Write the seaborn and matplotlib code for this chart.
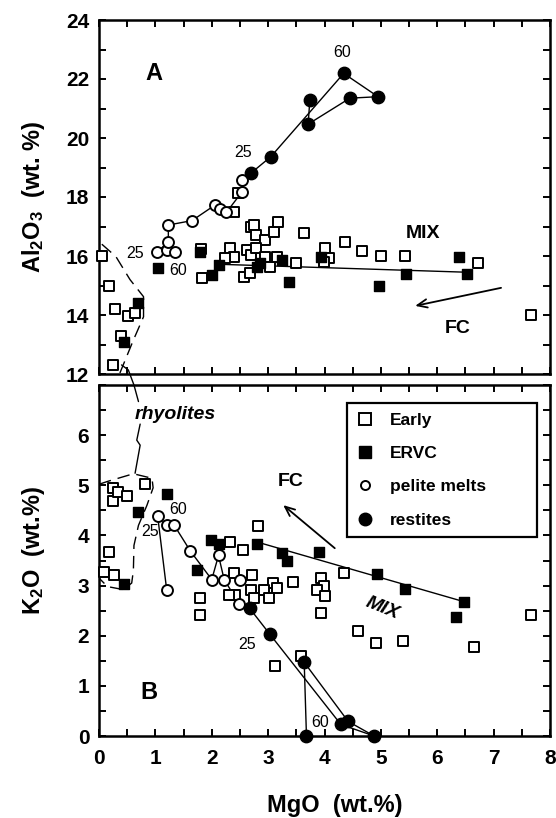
import matplotlib
matplotlib.use("Agg")
import matplotlib.pyplot as plt
from matplotlib.lines import Line2D
from matplotlib.ticker import MultipleLocator
import seaborn as sns

# ---------------- Panel A: Al2O3 vs MgO ----------------
early_a_mgo = [0.05, 0.18, 0.28, 0.52, 0.64, 0.39, 0.25,
               1.81, 1.83, 2.33, 2.39, 2.24, 2.57, 2.67, 2.62,
               2.69, 2.75, 2.79, 2.95, 3.11, 3.17,
               2.69, 2.79, 2.95, 3.04, 3.16, 3.49, 3.64, 4.00, 4.08, 3.99,
               4.36, 4.66, 5.00, 5.43, 6.72, 7.67, 2.39, 2.46]
early_a_al = [16.0, 15.0, 14.2, 13.95, 14.07, 13.3, 12.3,
              16.25, 15.24, 16.26, 15.98, 15.92, 15.3, 15.41, 16.2,
              16.99, 17.05, 16.71, 16.54, 16.82, 17.16,
              16.03, 16.26, 15.98, 15.64, 15.98, 15.75, 16.77, 16.26, 15.92, 15.8,
              16.46, 16.17, 16.0, 16.0, 15.77, 14.0, 17.5, 18.12]

ervc_a_mgo = [0.69, 0.44, 1.04, 1.79, 2.00, 2.12, 2.80, 2.86, 3.25, 3.37,
              3.93, 4.97, 5.44, 6.39, 6.52]
ervc_a_al = [14.4, 13.1, 15.58, 16.15, 15.36, 15.7, 15.64, 15.75, 15.86, 15.13,
             15.98, 14.99, 15.38, 15.98, 15.38]

pelite_a_mgo = [1.03, 1.20, 1.35, 1.23, 1.23, 1.65, 2.06, 2.15, 2.26, 2.54, 2.54]
pelite_a_al = [16.15, 16.2, 16.15, 16.46, 17.05, 17.2, 17.73, 17.58, 17.48, 18.18, 18.58]

restite_a_mgo = [2.69, 3.05, 3.74, 3.71, 4.34, 4.45, 4.95]
restite_a_al = [18.8, 19.37, 21.29, 20.47, 22.19, 21.35, 21.4]

# melting paths (panel A)
melt_a_paths = [
    ([1.03, 1.23, 1.35], [16.15, 16.46, 16.15]),
    ([1.23, 1.23, 1.65, 2.06, 2.15, 2.26, 2.54, 2.54, 2.69, 3.05, 4.34, 4.95],
     [16.46, 17.05, 17.2, 17.73, 17.58, 17.48, 18.18, 18.58, 18.8, 19.37, 22.19, 21.4]),
    ([3.74, 3.71, 4.45, 4.95], [21.29, 20.47, 21.35, 21.4]),
]
mix_a_mgo = [2.12, 6.52]
mix_a_al = [15.72, 15.45]

rhy_a_mgo = [0.05, 0.3, 0.55, 0.79, 0.79, 0.61, 0.37]
rhy_a_al = [16.4, 15.98, 15.2, 14.62, 13.94, 13.15, 12.03]

# ---------------- Panel B: K2O vs MgO ----------------
early_b_mgo = [0.08, 0.27, 0.17, 0.25, 0.25, 0.34, 0.49, 0.82,
               1.80, 1.79, 2.32, 2.56, 2.82, 2.39, 2.72, 3.45, 3.09, 3.15,
               2.92, 2.69, 2.42, 2.30, 3.01, 2.75, 3.94, 3.99, 3.87, 4.00,
               3.94, 4.34, 4.60, 4.91, 5.40, 6.65, 7.66, 3.58, 3.13]
early_b_k = [3.28, 3.21, 3.66, 4.94, 4.68, 4.86, 4.79, 5.03,
             2.75, 2.42, 3.86, 3.70, 4.18, 3.26, 3.21, 3.08, 3.05, 2.95,
             2.92, 2.92, 2.82, 2.82, 2.75, 2.75, 3.15, 3.0, 2.92, 2.8,
             2.45, 3.26, 2.09, 1.85, 1.89, 1.77, 2.42, 1.6, 1.4]

ervc_b_mgo = [0.44, 0.70, 1.20, 1.73, 1.99, 2.12, 2.80, 3.25, 3.33, 3.90,
              4.93, 5.43, 6.47, 6.34]
ervc_b_k = [3.04, 4.46, 4.82, 3.32, 3.91, 3.82, 3.83, 3.65, 3.50, 3.67,
            3.23, 2.94, 2.68, 2.38]

pelite_b_mgo = [1.04, 1.20, 1.33, 1.62, 2.00, 2.12, 2.22, 2.50, 2.49, 1.20]
pelite_b_k = [4.39, 4.21, 4.21, 3.69, 3.12, 3.60, 3.12, 3.12, 2.63, 2.92]

restite_b_mgo = [2.67, 3.03, 3.64, 3.68, 4.29, 4.42, 4.88]
restite_b_k = [2.55, 2.03, 1.47, 0.0, 0.23, 0.29, 0.0]

# melting paths (panel B)
melt_b_paths = [
    ([1.04, 1.20], [4.39, 2.92]),
    ([1.04, 1.20, 1.33, 1.62, 2.00, 2.12, 2.22, 2.49, 2.67, 3.03, 4.29, 4.88],
     [4.39, 4.21, 4.21, 3.69, 3.12, 3.60, 3.12, 2.63, 2.55, 2.03, 0.23, 0.0]),
    ([3.68, 3.64, 4.42, 4.88], [0.0, 1.47, 0.29, 0.0]),
]
mix_b_mgo = [2.80, 6.47]
mix_b_k = [3.87, 2.68]

rhy_b_mgo = [0.0, 0.16, 0.61, 0.94, 0.96, 0.85, 0.70, 0.62, 0.61, 0.58, 0.43, 0.15, 0.0]
rhy_b_k = [5.02, 5.08, 5.23, 5.14, 4.95, 4.60, 4.20, 3.80, 3.30, 3.05, 2.92, 2.98, 3.15]
leader_mgo = [0.40, 0.52, 0.62, 0.70]
leader_k = [7.40, 7.30, 7.00, 6.67]
leader2_mgo = [0.73, 0.67, 0.73, 0.64]
leader2_k = [6.22, 5.90, 5.80, 5.24]

# ---------------- styling ----------------
sns.set_style("ticks")
plt.rcParams["font.family"] = ["Liberation Sans", "DejaVu Sans"]
plt.rcParams["mathtext.fontset"] = "custom"
plt.rcParams["mathtext.bf"] = "Liberation Sans:bold"
plt.rcParams["mathtext.rm"] = "Liberation Sans:bold"
plt.rcParams["mathtext.default"] = "bf"
for key in ("text.color", "axes.labelcolor", "xtick.color", "ytick.color",
            "axes.edgecolor"):
    plt.rcParams[key] = "black"

fig = plt.figure(figsize=(5.56, 8.18), dpi=100)
W, H = 556, 818
axA = fig.add_axes([99 / W, 1 - 374 / H, 451 / W, 354 / H])
axB = fig.add_axes([99 / W, 1 - 736 / H, 451 / W, 351 / H])

OPEN = dict(color="white", edgecolor="black", linewidth=1.4, clip_on=False)
FILL = dict(color="black", edgecolor="black", linewidth=1.0, clip_on=False)
SQ = 62
CI = 62
CI_BIG = 80


def draw_panel(ax, early, ervc, pelite, restite, paths, mix):
    for xs, ys in paths:
        sns.lineplot(x=xs, y=ys, sort=False, estimator=None, color="black",
                     lw=1.0, ax=ax, zorder=2)
    sns.lineplot(x=mix[0], y=mix[1], sort=False, estimator=None, color="black",
                 lw=1.0, ax=ax, zorder=2)
    sns.scatterplot(x=early[0], y=early[1], marker="s", s=SQ, ax=ax, zorder=3, **OPEN)
    sns.scatterplot(x=ervc[0], y=ervc[1], marker="s", s=SQ, ax=ax, zorder=4, **FILL)
    sns.scatterplot(x=pelite[0], y=pelite[1], marker="o", s=CI, ax=ax, zorder=5, **OPEN)
    sns.scatterplot(x=restite[0], y=restite[1], marker="o", s=CI_BIG, ax=ax, zorder=6, **FILL)


draw_panel(axA, (early_a_mgo, early_a_al), (ervc_a_mgo, ervc_a_al),
           (pelite_a_mgo, pelite_a_al), (restite_a_mgo, restite_a_al),
           melt_a_paths, (mix_a_mgo, mix_a_al))
draw_panel(axB, (early_b_mgo, early_b_k), (ervc_b_mgo, ervc_b_k),
           (pelite_b_mgo, pelite_b_k), (restite_b_mgo, restite_b_k),
           melt_b_paths, (mix_b_mgo, mix_b_k))

# rhyolite outlines
axA.plot(rhy_a_mgo, rhy_a_al, color="black", lw=1.0, ls=(0, (9, 5)), zorder=1)
axB.plot(rhy_b_mgo, rhy_b_k, color="black", lw=1.0, ls=(0, (9, 5)), zorder=1)
axB.plot(leader_mgo, leader_k, color="black", lw=1.0, clip_on=False, zorder=1)
axB.plot(leader2_mgo, leader2_k, color="black", lw=1.0, clip_on=False, zorder=1)

# axes formatting
for ax in (axA, axB):
    ax.set_xlim(0, 8)
    ax.xaxis.set_major_locator(MultipleLocator(1))
    ax.xaxis.set_minor_locator(MultipleLocator(0.5))
    ax.tick_params(which="both", direction="in", top=True, right=True,
                   width=1.4, length=5, color="black")
    ax.tick_params(axis="both", labelsize=15, labelcolor="black")
    for sp in ax.spines.values():
        sp.set_linewidth(1.8)
        sp.set_color("black")
        sp.set_visible(True)
    ax.set_xlabel("")
    ax.set_ylabel("")

axA.set_ylim(12, 24)
axA.set_yticks(range(12, 25, 2))
axA.yaxis.set_minor_locator(MultipleLocator(1))
axA.tick_params(axis="x", labelbottom=False)
axA.tick_params(axis="y", pad=7)

axB.set_ylim(0, 7)
axB.set_yticks(range(0, 7))
axB.yaxis.set_minor_locator(MultipleLocator(0.5))
axB.tick_params(axis="x", pad=9)
axB.tick_params(axis="y", pad=7)
for ax in (axA, axB):
    for lab in ax.get_xticklabels() + ax.get_yticklabels():
        lab.set_fontweight("bold")

axA.set_ylabel(r"Al$_2$O$_3$  (wt. %)", fontsize=17, fontweight="bold")
axA.yaxis.set_label_coords(-0.115, 0.5)
axB.set_ylabel(r"K$_2$O  (wt.%)", fontsize=17, fontweight="bold")
axB.yaxis.set_label_coords(-0.115, 0.53)
axB.set_xlabel("MgO  (wt.%)", fontsize=17, fontweight="bold")
axB.xaxis.set_label_coords(0.523, -0.165)

# annotations, panel A
axA.text(0.97, 22.2, "A", fontsize=17, fontweight="bold", ha="center", va="center")
axA.text(4.32, 22.9, "60", fontsize=11.5, ha="center", va="center")
axA.text(2.55, 19.5, "25", fontsize=11.5, ha="center", va="center")
axA.text(0.64, 16.07, "25", fontsize=11.5, ha="center", va="center")
axA.text(1.41, 15.5, "60", fontsize=11.5, ha="center", va="center")
axA.text(5.74, 16.77, "MIX", fontsize=14, fontweight="bold", ha="center", va="center")
axA.text(6.36, 13.55, "FC", fontsize=14, fontweight="bold", ha="center", va="center")
axA.annotate("", xy=(5.56, 14.29), xytext=(7.18, 14.94),
             arrowprops=dict(arrowstyle="->,head_length=0.7,head_width=0.3",
                             lw=1.3, color="black"))

# annotations, panel B
axB.text(0.88, 0.86, "B", fontsize=17, fontweight="bold", ha="center", va="center")
axB.text(1.35, 6.42, "rhyolites", fontsize=14, fontweight="bold",
         style="italic", ha="center", va="center")
axB.text(0.9, 4.08, "25", fontsize=11.5, ha="center", va="center")
axB.text(1.41, 4.52, "60", fontsize=11.5, ha="center", va="center")
axB.text(2.63, 1.82, "25", fontsize=11.5, ha="center", va="center")
axB.text(3.93, 0.26, "60", fontsize=11.5, ha="center", va="center")
axB.text(3.4, 5.07, "FC", fontsize=14, fontweight="bold", ha="center", va="center")
axB.text(5.03, 2.55, "MIX", fontsize=14, fontweight="bold", style="italic",
         rotation=-22, ha="center", va="center")
axB.annotate("", xy=(3.23, 4.64), xytext=(4.22, 3.71),
             arrowprops=dict(arrowstyle="->,head_length=0.7,head_width=0.3",
                             lw=1.3, color="black"))

handles = [
    Line2D([], [], ls="", marker="s", ms=8, mfc="white", mec="black", mew=1.4, label="Early"),
    Line2D([], [], ls="", marker="s", ms=8, mfc="black", mec="black", label="ERVC"),
    Line2D([], [], ls="", marker="o", ms=6.5, mfc="white", mec="black", mew=1.4, label="pelite melts"),
    Line2D([], [], ls="", marker="o", ms=9, mfc="black", mec="black", label="restites"),
]
leg = axB.legend(handles=handles, loc="upper left",
                 bbox_to_anchor=(0.55, 0.52, 0.421, 0.429), mode="expand",
                 frameon=True, fancybox=False, edgecolor="black",
                 prop={"weight": "bold", "size": 12.5},
                 labelspacing=1.05, handletextpad=0.9, borderpad=0.55,
                 handlelength=1.0, borderaxespad=0.0)
leg.get_frame().set_linewidth(1.6)
leg.get_frame().set_alpha(1)

fig.savefig("out.png", dpi=100)
